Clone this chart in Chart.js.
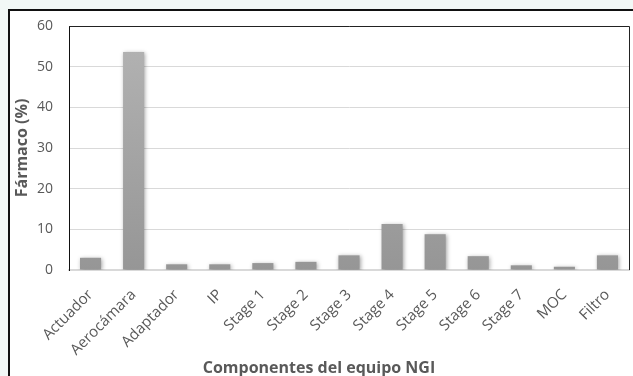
<!DOCTYPE html>
<html lang="es">
<head>
<meta charset="utf-8">
<title>Fármaco depositado por componente del equipo NGI</title>
<script src="https://cdn.jsdelivr.net/npm/chart.js@4.4.1/dist/chart.umd.min.js"></script>
<style>
  html, body { margin: 0; padding: 0; background: #f2f8f6; }
  #wrap { width: 633px; height: 376px; overflow: hidden; }
  canvas { display: block; }
</style>
</head>
<body>
<div id="wrap"><canvas id="grafico" width="633" height="376"></canvas></div>
<script>
// Componentes del impactador NGI y porcentaje de fármaco recuperado en cada uno
const componentes = ['Actuador', 'Aerocámara', 'Adaptador', 'IP', 'Stage 1', 'Stage 2', 'Stage 3',
                     'Stage 4', 'Stage 5', 'Stage 6', 'Stage 7', 'MOC', 'Filtro'];
const farmaco = [3.0, 53.6, 1.4, 1.4, 1.7, 2.0, 3.6, 11.3, 8.8, 3.4, 1.15, 0.8, 3.6];
const ticksY = [0, 10, 20, 30, 40, 50, 60];

const tituloY = 'Fármaco (%)';
const tituloX = 'Componentes del equipo NGI';
const gris = '#595959';
const fuente = '"Open Sans", "DejaVu Sans", sans-serif';

// Marco exterior y fondo blanco del gráfico
const marco = {
  id: 'marco',
  beforeDraw(chart) {
    const ctx = chart.ctx;
    ctx.save();
    ctx.fillStyle = '#f2f8f6';
    ctx.fillRect(0, 0, chart.width, chart.height);
    ctx.fillStyle = '#ffffff';
    ctx.fillRect(9, 10, chart.width, chart.height);
    ctx.strokeStyle = '#111111';
    ctx.lineWidth = 2;
    ctx.beginPath();
    ctx.moveTo(9, chart.height + 2);
    ctx.lineTo(9, 10);
    ctx.lineTo(chart.width + 2, 10);
    ctx.stroke();
    ctx.restore();
  },
  afterDraw(chart) {
    // bordes superior y derecho del área de trazado
    const a = chart.chartArea;
    const ctx = chart.ctx;
    ctx.save();
    ctx.strokeStyle = '#222222';
    ctx.lineWidth = 1;
    ctx.beginPath();
    ctx.moveTo(a.left, a.top + 0.5);
    ctx.lineTo(a.right + 0.5, a.top + 0.5);
    ctx.lineTo(a.right + 0.5, a.bottom);
    ctx.stroke();

    // títulos de los ejes
    ctx.fillStyle = gris;
    ctx.font = 'bold 16px ' + fuente;
    ctx.textAlign = 'center';
    ctx.textBaseline = 'middle';
    ctx.fillText(tituloX, 319, 368);
    ctx.translate(22, (a.top + a.bottom) / 2);
    ctx.rotate(-Math.PI / 2);
    ctx.fillText(tituloY, 0, 0);
    ctx.restore();
  }
};

// Sombra suave bajo las barras
const sombra = {
  id: 'sombra',
  beforeDatasetsDraw(chart) {
    const ctx = chart.ctx;
    ctx.save();
    ctx.shadowColor = 'rgba(0,0,0,0.35)';
    ctx.shadowBlur = 4;
    ctx.shadowOffsetX = 1;
    ctx.shadowOffsetY = 1;
  },
  afterDatasetsDraw(chart) {
    chart.ctx.restore();
  }
};

function degradado(context) {
  const chart = context.chart;
  const a = chart.chartArea;
  if (!a) return '#a0a0a0';
  const g = chart.ctx.createLinearGradient(0, a.top, 0, a.bottom);
  g.addColorStop(0, '#b4b4b4');
  g.addColorStop(1, '#969696');
  return g;
}

new Chart(document.getElementById('grafico'), {
  type: 'bar',
  data: {
    labels: componentes,
    datasets: [{
      data: farmaco,
      backgroundColor: degradado,
      borderWidth: 0,
      categoryPercentage: 1,
      barPercentage: 0.49
    }]
  },
  plugins: [marco, sombra],
  options: {
    responsive: false,
    animation: false,
    devicePixelRatio: 1,
    layout: { padding: { left: 0, top: 26, right: 4, bottom: 0 } },
    plugins: { legend: { display: false }, tooltip: { enabled: false } },
    scales: {
      x: {
        grid: { display: false },
        border: { display: true, color: '#d9d9d9', width: 2 },
        ticks: {
          color: gris,
          font: { family: fuente, size: 15 },
          minRotation: 45,
          maxRotation: 45,
          padding: 8,
          autoSkip: false
        },
        afterFit(scale) { scale.height = 106; }
      },
      y: {
        min: 0,
        max: 60,
        afterBuildTicks(scale) { scale.ticks = ticksY.map(v => ({ value: v })); },
        grid: { color: '#d9d9d9', lineWidth: 1, drawTicks: false },
        border: { display: true, color: '#111111', width: 1 },
        ticks: {
          color: gris,
          font: { family: fuente, size: 14 },
          padding: 16
        },
        afterFit(scale) { scale.width = 69; }
      }
    }
  }
});
</script>
</body>
</html>
